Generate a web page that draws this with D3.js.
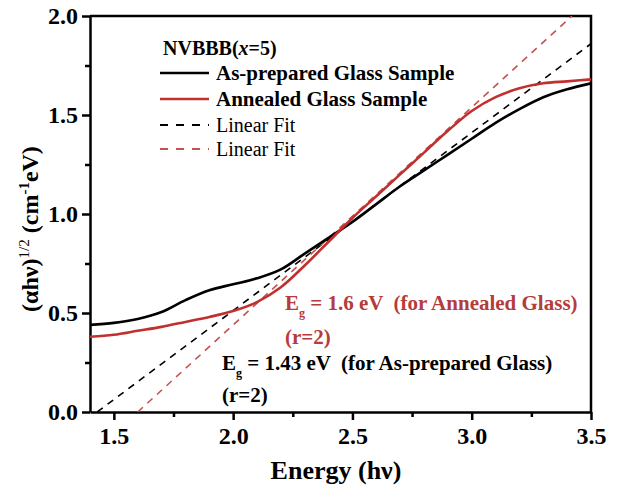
<!DOCTYPE html>
<html>
<head>
<meta charset="utf-8">
<script src="https://cdn.jsdelivr.net/npm/d3@7"></script>
<style>
  body { margin: 0; background: #fff; }
  svg { display: block; }
  text { font-family: "Liberation Serif", "Times New Roman", serif; }
</style>
</head>
<body>
<div id="chart"></div>
<script>
// energy values (eV) shared by both curves
var energy = [1.40, 1.50, 1.60, 1.70, 1.80, 1.90, 2.00, 2.10, 2.20, 2.30, 2.40,
              2.50, 2.60, 2.70, 2.80, 2.90, 3.00, 3.10, 3.20, 3.30, 3.40, 3.50];
// (alpha h nu)^1/2 for the as-prepared glass
var asPrepared = [0.44, 0.45, 0.47, 0.505, 0.565, 0.615, 0.645, 0.675, 0.72, 0.80, 0.88,
                  0.96, 1.05, 1.14, 1.22, 1.30, 1.38, 1.46, 1.53, 1.59, 1.63, 1.66];
// (alpha h nu)^1/2 for the annealed glass
var annealed = [0.38, 0.39, 0.41, 0.43, 0.455, 0.48, 0.51, 0.555, 0.63, 0.74, 0.86,
                0.98, 1.09, 1.20, 1.31, 1.42, 1.52, 1.59, 1.635, 1.66, 1.67, 1.68];
// linear fit end points [energy, value]
var fitAsPrepared = [[1.43, 0], [3.5, 1.86]];
var fitAnnealed = [[1.6, 0], [3.42, 2.0]];

var xTicks = [1.5, 2.0, 2.5, 3.0, 3.5];
var xMinor = [1.75, 2.25, 2.75, 3.25];
var yTicks = [0.0, 0.5, 1.0, 1.5, 2.0];
var yMinor = [0.25, 0.75, 1.25, 1.75];

var legendItems = ["As-prepared Glass Sample", "Annealed Glass Sample", "Linear Fit", "Linear Fit"];

var red = "#c0302f", redText = "#b53c3b", redDash = "#c4524f";

var W = 619, H = 486;
var margin = {top: 16, right: 28, bottom: 74, left: 90};

var svg = d3.select("#chart").append("svg")
    .attr("width", W)
    .attr("height", H);

var x = d3.scaleLinear().domain([1.4, 3.5]).range([margin.left, W - margin.right]);
var y = d3.scaleLinear().domain([0, 2]).range([H - margin.bottom, margin.top]);

// frame (top and right)
svg.append("path")
  .attr("d", "M" + x(1.4) + "," + y(2) + "H" + x(3.5) + "V" + y(0))
  .attr("fill", "none")
  .attr("stroke", "#000")
  .attr("stroke-width", 2.5);

// bottom axis
var xAxis = svg.append("g")
  .attr("transform", "translate(0," + y(0) + ")")
  .call(d3.axisBottom(x).tickValues(xTicks).tickFormat(d3.format(".1f")).tickSize(8).tickSizeOuter(0));
svg.append("g")
  .attr("transform", "translate(0," + y(0) + ")")
  .call(d3.axisBottom(x).tickValues(xMinor).tickFormat("").tickSize(5).tickSizeOuter(0))
  .select(".domain").remove();

// left axis
var yAxis = svg.append("g")
  .attr("transform", "translate(" + x(1.4) + ",0)")
  .call(d3.axisLeft(y).tickValues(yTicks).tickFormat(d3.format(".1f")).tickSize(8).tickSizeOuter(0));
svg.append("g")
  .attr("transform", "translate(" + x(1.4) + ",0)")
  .call(d3.axisLeft(y).tickValues(yMinor).tickFormat("").tickSize(5).tickSizeOuter(0))
  .select(".domain").remove();

svg.selectAll(".domain").attr("stroke-width", 2.5);
svg.selectAll(".tick line").attr("stroke-width", 2.5);
xAxis.selectAll("text")
  .attr("y", 12)
  .attr("dy", "0.85em")
  .style("font-size", "24px")
  .style("font-weight", "bold")
  .style("font-family", "'Liberation Serif', serif");
yAxis.selectAll("text")
  .attr("x", -12)
  .style("font-size", "24px")
  .style("font-weight", "bold")
  .style("font-family", "'Liberation Serif', serif");

// clip to plot
svg.append("clipPath").attr("id", "clip")
  .append("rect")
  .attr("x", x(1.4)).attr("y", y(2))
  .attr("width", x(3.5) - x(1.4)).attr("height", y(0) - y(2));

var plot = svg.append("g").attr("clip-path", "url(#clip)");

var fitLine = d3.line().x(function(d) { return x(d[0]); }).y(function(d) { return y(d[1]); });

plot.append("path")
  .attr("d", fitLine(fitAsPrepared))
  .attr("fill", "none")
  .attr("stroke", "#000")
  .attr("stroke-width", 1.6)
  .attr("stroke-dasharray", "7,6");

plot.append("path")
  .attr("d", fitLine(fitAnnealed))
  .attr("fill", "none")
  .attr("stroke", redDash)
  .attr("stroke-width", 1.6)
  .attr("stroke-dasharray", "7,6");

var curve = d3.line()
  .x(function(d, i) { return x(energy[i]); })
  .y(function(d) { return y(d); })
  .curve(d3.curveCatmullRom.alpha(0.5));

plot.append("path")
  .attr("d", curve(asPrepared))
  .attr("fill", "none")
  .attr("stroke", "#000")
  .attr("stroke-width", 2.6);

plot.append("path")
  .attr("d", curve(annealed))
  .attr("fill", "none")
  .attr("stroke", red)
  .attr("stroke-width", 2.6);

// axis titles
svg.append("text")
  .attr("x", 336)
  .attr("y", 479)
  .attr("text-anchor", "middle")
  .style("font-size", "26px")
  .style("font-weight", "bold")
  .text("Energy (h\u03bd)");

var yl = svg.append("text")
  .attr("transform", "translate(38,229) rotate(-90)")
  .attr("text-anchor", "middle")
  .style("font-size", "24px")
  .style("font-weight", "bold");
yl.append("tspan").text("(\u03b1h\u03bd)");
yl.append("tspan").attr("dy", -9).style("font-size", "15px").style("font-weight", "normal").text("1/2");
yl.append("tspan").attr("dy", 9).text(" (cm");
yl.append("tspan").attr("dy", -9).style("font-size", "15px").text("-1");
yl.append("tspan").attr("dy", 9).text("eV)");

// legend
var lg = svg.append("g");
var title = lg.append("text")
  .attr("x", 163).attr("y", 55)
  .style("font-size", "20px")
  .style("font-weight", "bold");
title.append("tspan").text("NVBBB(");
title.append("tspan").style("font-style", "italic").text("x");
title.append("tspan").text("=5)");

var rowY = [73, 99, 125, 149];
var rowColor = ["#000", red, "#000", redDash];
legendItems.forEach(function(label, i) {
  lg.append("line")
    .attr("x1", 160).attr("x2", 209)
    .attr("y1", rowY[i]).attr("y2", rowY[i])
    .attr("stroke", rowColor[i])
    .attr("stroke-width", i < 2 ? 2.6 : 1.8)
    .attr("stroke-dasharray", i < 2 ? null : "8,8");
  lg.append("text")
    .attr("x", 216).attr("y", rowY[i] + 7)
    .style("font-size", i < 2 ? "21px" : "20px")
    .style("font-weight", i < 2 ? "bold" : "normal")
    .text(label);
});

// band gap annotations
function annotate(xp, yp, color, rest) {
  var t = svg.append("text")
    .attr("x", xp).attr("y", yp)
    .attr("fill", color)
    .style("font-size", "21px")
    .style("font-weight", "bold")
    .style("white-space", "pre");
  t.append("tspan").text("E");
  t.append("tspan").attr("dy", 7).style("font-size", "12px").text("g");
  t.append("tspan").attr("dy", -7).text(rest);
  return t;
}
annotate(285, 310, redText, " = 1.6 eV  (for Annealed Glass)");
svg.append("text").attr("x", 285).attr("y", 344).attr("fill", redText)
  .style("font-size", "21px").style("font-weight", "bold").text("(r=2)");
annotate(222, 370, "#000", " = 1.43 eV  (for As-prepared Glass)");
svg.append("text").attr("x", 222).attr("y", 402).attr("fill", "#000")
  .style("font-size", "21px").style("font-weight", "bold").text("(r=2)");
</script>
</body>
</html>
